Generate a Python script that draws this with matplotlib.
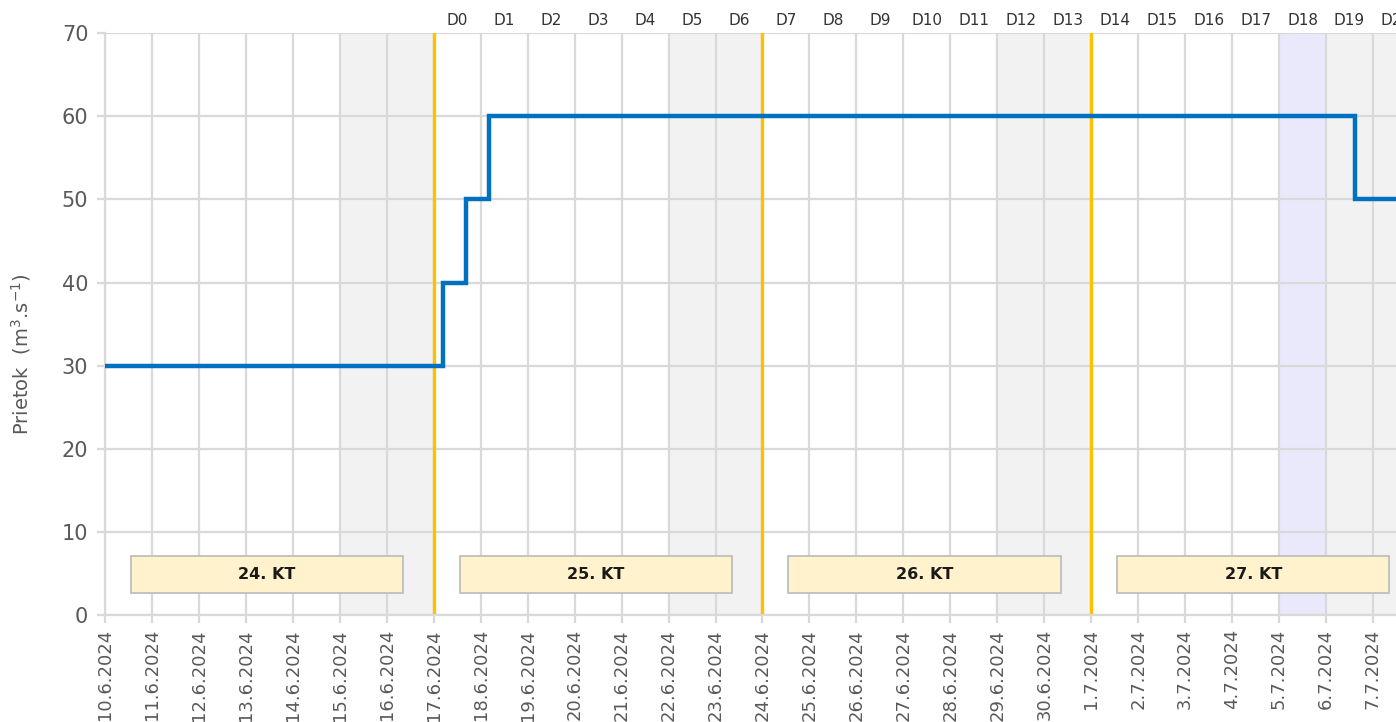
import matplotlib
matplotlib.use("Agg")
import matplotlib.pyplot as plt
import matplotlib.dates as mdates
import pandas as pd
from matplotlib.patches import Rectangle

# flow steps (time of change, new value)
flow_times = ["2024-06-10 00:00", "2024-06-17 04:30", "2024-06-17 16:30",
              "2024-06-18 04:30", "2024-07-06 15:00", "2024-07-08 12:00"]
flow_values = [30, 40, 50, 60, 50, 50]

first_day = "2024-06-10"
last_day = "2024-07-07"

weekend_days = ["2024-06-15", "2024-06-16", "2024-06-22", "2024-06-23",
                "2024-06-29", "2024-06-30", "2024-07-06", "2024-07-07"]
holiday_days = ["2024-07-05"]

week_starts = ["2024-06-10", "2024-06-17", "2024-06-24", "2024-07-01"]
week_labels = ["24. KT", "25. KT", "26. KT", "27. KT"]
marker_lines = ["2024-06-17", "2024-06-24", "2024-07-01"]

d_start = "2024-06-17"
d_labels = [f"D{i}" for i in range(21)]

y_ticks = [0, 10, 20, 30, 40, 50, 60, 70]

GRID = "#d9d9d9"
TXT = "#595959"


def num(s):
    return mdates.date2num(pd.Timestamp(s))


fig = plt.figure(figsize=(13.96, 7.22), dpi=100)
ax = fig.add_axes([0.0752, 0.148, 0.9248, 0.806])

days = pd.date_range(first_day, last_day, freq="D")
x0 = num(first_day)
x1 = num(last_day) + 0.49

# background shading for weekends and holiday
for d in weekend_days:
    ax.axvspan(num(d), num(d) + 1, color="#f2f2f2", zorder=0, lw=0)
for d in holiday_days:
    ax.axvspan(num(d), num(d) + 1, color="#e9e9fb", zorder=0, lw=0)

# grid
for d in days:
    ax.axvline(num(d), color=GRID, lw=1.6, zorder=1)
for y in y_ticks:
    ax.axhline(y, color=GRID, lw=1.6, zorder=1)

# week boundaries
for d in marker_lines:
    ax.axvline(num(d), color="#ffc000", lw=2.4, zorder=2)

# week boxes
for start, lab in zip(week_starts, week_labels):
    s = num(start)
    ax.add_patch(Rectangle((s + 0.55, 2.7), 5.8, 4.4, facecolor="#fff2cc",
                           edgecolor="#bfbfbf", lw=1.3, zorder=3))
    ax.text(s + 3.45, 4.9, lab, ha="center", va="center", fontsize=11.5,
            fontweight="bold", color="#1a1a1a", zorder=4)

# flow line
ax.plot([num(t) for t in flow_times], flow_values, drawstyle="steps-post",
        color="#0070c0", lw=3.2, zorder=5, solid_joinstyle="miter")

# D labels on top
ds = num(d_start)
for i, lab in enumerate(d_labels):
    ax.text(ds + i + 0.5, 70.6, lab, ha="center", va="bottom", fontsize=11,
            family=["Liberation Sans Narrow", "DejaVu Sans"],
            color="#333333", clip_on=False)

ax.set_xlim(x0, x1)
ax.set_ylim(0, 70)
ax.set_xticks([num(d) for d in days])
ax.set_xticklabels([f"{d.day}.{d.month}.{d.year}" for d in days], rotation=90,
                   fontsize=13, color=TXT)
ax.set_yticks(y_ticks)
ax.set_yticklabels([str(y) for y in y_ticks], fontsize=15, color=TXT)
ax.tick_params(axis="both", direction="out", color=GRID, width=1.6, length=6)
ax.tick_params(axis="y", pad=6)
ax.tick_params(axis="x", pad=4)

for side in ["top", "right"]:
    ax.spines[side].set_visible(False)
ax.spines["left"].set_color(GRID)
ax.spines["bottom"].set_color(GRID)
ax.spines["left"].set_linewidth(1.6)
ax.spines["bottom"].set_linewidth(1.6)

fig.text(0.015, 0.51, "Prietok  (m$^3$.s$^{-1}$)", rotation=90, ha="center",
         va="center", fontsize=14, color=TXT)

fig.savefig("out.png", dpi=100)
